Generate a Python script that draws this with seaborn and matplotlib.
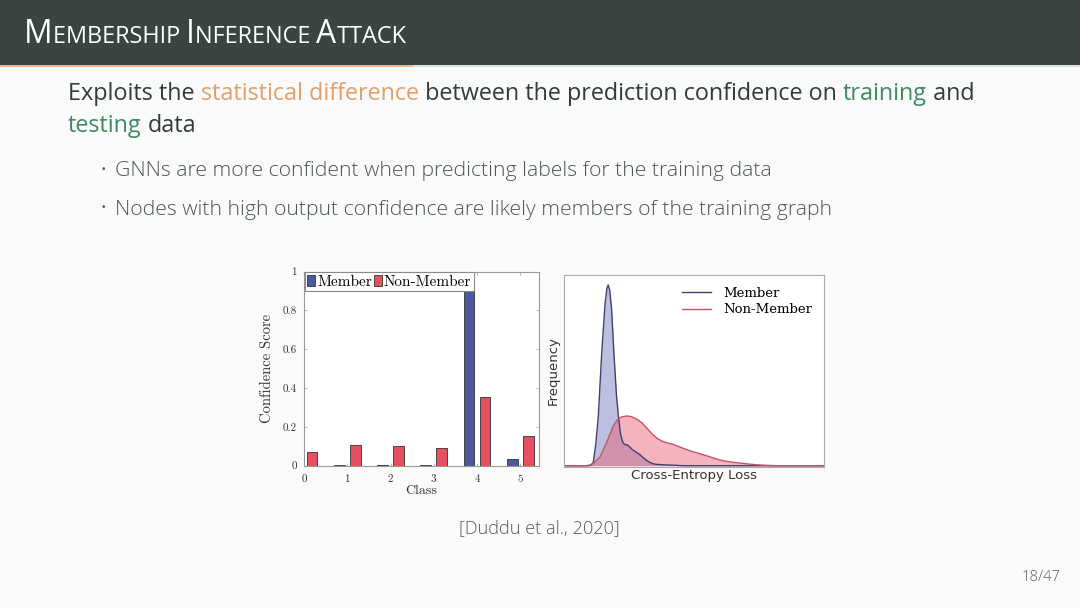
import matplotlib
matplotlib.use("Agg")
import matplotlib.pyplot as plt
import seaborn as sns
import pandas as pd
import numpy as np

# ---------------- data ----------------
classes = ["0", "1", "2", "3", "4", "5"]
member_conf = [0.002, 0.006, 0.005, 0.004, 0.913, 0.035]
nonmember_conf = [0.069, 0.105, 0.101, 0.093, 0.352, 0.153]

member_loss = [0.0, 0.095, 0.105, 0.113, 0.122, 0.132, 0.145, 0.158, 0.165, 0.170, 0.176, 0.183,
               0.192, 0.202, 0.210, 0.217, 0.224, 0.232, 0.242, 0.252, 0.262, 0.275, 0.290,
               0.305, 0.320, 0.335, 0.350, 0.38, 0.42, 0.46, 1.0]
member_freq = [0.0, 0.0, 0.004, 0.02, 0.11, 0.26, 0.59, 0.85, 0.93, 0.948, 0.92, 0.82,
               0.59, 0.365, 0.25, 0.17, 0.13, 0.112, 0.110, 0.100, 0.085, 0.074, 0.060,
               0.042, 0.026, 0.014, 0.008, 0.005, 0.003, 0.0, 0.0]

nonmember_loss = [0.0, 0.085, 0.100, 0.115, 0.138, 0.164, 0.190, 0.205, 0.220, 0.241, 0.260,
                  0.280, 0.300, 0.320, 0.340, 0.360, 0.380, 0.400, 0.420, 0.450, 0.485,
                  0.520, 0.549, 0.580, 0.612, 0.645, 0.677, 0.710, 0.741, 0.780, 0.82, 1.0]
nonmember_freq = [0.0, 0.0, 0.004, 0.015, 0.045, 0.122, 0.21, 0.24, 0.255, 0.261, 0.257,
                  0.244, 0.225, 0.195, 0.165, 0.142, 0.127, 0.119, 0.112, 0.096, 0.078,
                  0.064, 0.052, 0.038, 0.026, 0.019, 0.014, 0.009, 0.005, 0.002, 0.0, 0.0]

series_names = ["Member", "Non-Member"]

# ---------------- figure ----------------
W, H = 1080, 608
fig = plt.figure(figsize=(W / 100, H / 100), dpi=100, facecolor="#fafafa")
renderer = fig.canvas.get_renderer()

# title bar
fig.patches.append(matplotlib.patches.Rectangle((0, 1 - 65 / H), 1, 65 / H, transform=fig.transFigure,
                                                facecolor="#3a4442", edgecolor="none", zorder=0))
fig.patches.append(matplotlib.patches.Rectangle((0, 1 - 67 / H), 413 / W, 2 / H, transform=fig.transFigure,
                                                facecolor="#e8b888", edgecolor="none", zorder=0))
fig.patches.append(matplotlib.patches.Rectangle((413 / W, 1 - 67 / H), 1 - 413 / W, 2 / H, transform=fig.transFigure,
                                                facecolor="#d8dcdc", edgecolor="none", zorder=0))

FONT = "Open Sans"


def draw_line(x0, x1, baseline, segments, weight="normal"):
    """segments: list of (text, color, relative size). Fit total width to x1-x0."""
    base = 14.0
    for attempt in range(2):
        arts = []
        x = x0
        for txt, col, rel in segments:
            t = fig.text(x / W, 1 - baseline / H, txt, color=col, fontsize=base * rel,
                         family=FONT, weight=weight, va="baseline", ha="left")
            bb = t.get_window_extent(renderer)
            x += bb.width
            arts.append(t)
        total = x - x0
        if attempt == 0:
            for a in arts:
                a.remove()
            base = base * (x1 - x0) / total
    return base


# title (small caps imitation)
draw_line(24, 407, 43, [("M", "white", 1.0), ("EMBERSHIP ", "white", 0.74),
                        ("I", "white", 1.0), ("NFERENCE ", "white", 0.74),
                        ("A", "white", 1.0), ("TTACK", "white", 0.74)])

dark = "#323c3c"
orange = "#dea06c"
green = "#3f8a5e"
s1 = draw_line(68, 981, 100, [("Exploits the ", dark, 1), ("statistical difference", orange, 1),
                              (" between the prediction confidence on ", dark, 1),
                              ("training", green, 1), (" and", dark, 1)])
fig.text(68 / W, 1 - 132 / H, "testing", color=green, fontsize=s1, family=FONT, va="baseline")
t = fig.text(0, 0, "testing ", fontsize=s1, family=FONT)
wt = t.get_window_extent(renderer).width
t.remove()
fig.text((68 + wt) / W, 1 - 132 / H, "data", color=dark, fontsize=s1, family=FONT, va="baseline")

gray = "#4d5555"
s2 = draw_line(115, 773, 176, [("GNNs are more confident when predicting labels for the training data", gray, 1)],
               weight="light")
fig.text(115 / W, 1 - 215 / H, "Nodes with high output confidence are likely members of the training graph",
         color=gray, fontsize=s2, family=FONT, weight="light", va="baseline")
for yb in (176, 215):
    fig.text(100 / W, 1 - (yb - 6) / H, "·", color=gray, fontsize=s2, family=FONT, va="center")

draw_line(459, 621, 533, [("[Duddu et al., 2020]", "#555d5d", 1)], weight="light")
draw_line(1022, 1061, 581, [("18/47", "#555d5d", 1)], weight="light")

# ---------------- bar chart ----------------
serif = "cmr10"
ax1 = fig.add_axes([304 / W, 1 - 465.7 / H, 234.5 / W, 194.2 / H])
df = pd.DataFrame({
    "Class": classes * 2,
    "Score": member_conf + nonmember_conf,
    "Group": [series_names[0]] * len(classes) + [series_names[1]] * len(classes),
})
sns.barplot(data=df, x="Class", y="Score", hue="Group", ax=ax1,
            palette={"Member": "#4b5a9e", "Non-Member": "#e8505f"},
            width=0.74, gap=0.33, edgecolor="#333333", linewidth=0.6, saturation=1)
ax1.set_facecolor("white")
ax1.set_xlim(0, 5.42)
ax1.set_ylim(0, 1)
ax1.set_yticks([0, 0.2, 0.4, 0.6, 0.8, 1.0])
ax1.set_yticklabels(["0", "0.2", "0.4", "0.6", "0.8", "1"], family=serif, fontsize=8)
ax1.set_xticks(range(6))
ax1.set_xticklabels(classes, family=serif, fontsize=8)
ax1.tick_params(axis="both", direction="in", length=2, width=0.5, colors="#999999", labelcolor="#333333",
                top=True, right=True)
ax1.tick_params(axis="x", pad=6)
ax1.tick_params(axis="y", pad=5)
ax1.set_xlabel("Class", family=serif, fontsize=10, labelpad=1, color="#333333")
ax1.set_ylabel("Confidence Score", family=serif, fontsize=10.5, labelpad=6, color="#333333")
for sp in ax1.spines.values():
    sp.set_color("#999999")
    sp.set_linewidth(0.8)
leg = ax1.legend(loc="upper left", ncol=2, prop={"family": serif, "size": 11},
                 handlelength=0.55, handleheight=0.8, handletextpad=0.1, columnspacing=0.15,
                 borderpad=0.15, borderaxespad=0.05, fancybox=False, framealpha=1,
                 edgecolor="#888888")
leg.get_frame().set_linewidth(0.8)

# ---------------- density chart ----------------
ax2 = fig.add_axes([564 / W, 1 - 466.7 / H, 260 / W, 191.7 / H])
ax2.set_facecolor("white")
mem_col = "#404070"
non_col = "#c45262"
ax2.fill_between(member_loss, member_freq, color="#7c80c4", alpha=0.5, linewidth=0)
sns.lineplot(x=member_loss, y=member_freq, ax=ax2, color=mem_col, linewidth=1.0, label="Member")
ax2.fill_between(nonmember_loss, nonmember_freq, color="#ea5a6e", alpha=0.45, linewidth=0)
sns.lineplot(x=nonmember_loss, y=nonmember_freq, ax=ax2, color=non_col, linewidth=1.0, label="Non-Member")
ax2.set_xlim(0, 1)
ax2.set_ylim(-0.005, 1)
ax2.set_xticks([])
ax2.set_yticks([])
ax2.set_xlabel("Cross-Entropy Loss", family="DejaVu Sans", fontsize=9.5, labelpad=2, color="#333333")
ax2.set_ylabel("Frequency", family="DejaVu Sans", fontsize=9.5, labelpad=3, color="#333333")
for sp in ax2.spines.values():
    sp.set_color("#aaaaaa")
    sp.set_linewidth(0.8)
ax2.legend(loc="upper right", frameon=False, prop={"family": "DejaVu Serif", "size": 9.5},
           handlelength=2.2, handletextpad=0.9, labelspacing=0.25,
           bbox_to_anchor=(1.0, 1.0))

fig.savefig("out.png", dpi=100, facecolor=fig.get_facecolor())
